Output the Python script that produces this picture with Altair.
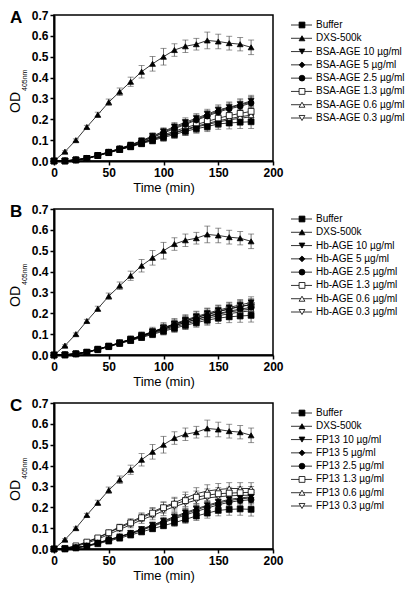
import altair as alt
import pandas as pd

times = [0, 10, 20, 30, 40, 50, 60, 70, 80, 90, 100, 110, 120, 130, 140, 150, 160, 170, 180]
keys = ["s0", "s1", "s2", "s3", "s4", "s5", "s6", "s7"]
shapes = ["square", "triangle-up", "triangle-down", "diamond", "circle", "square", "triangle-up", "triangle-down"]
fills = ["black", "black", "black", "black", "black", "white", "white", "white"]

labels_A = ["Buffer", "DXS-500k", "BSA-AGE 10 µg/ml", "BSA-AGE 5 µg/ml", "BSA-AGE 2.5 µg/ml",
            "BSA-AGE 1.3 µg/ml", "BSA-AGE 0.6 µg/ml", "BSA-AGE 0.3 µg/ml"]
labels_B = ["Buffer", "DXS-500k", "Hb-AGE 10 µg/ml", "Hb-AGE 5 µg/ml", "Hb-AGE 2.5 µg/ml",
            "Hb-AGE 1.3 µg/ml", "Hb-AGE 0.6 µg/ml", "Hb-AGE 0.3 µg/ml"]
labels_C = ["Buffer", "DXS-500k", "FP13 10 µg/ml", "FP13 5 µg/ml", "FP13 2.5 µg/ml",
            "FP13 1.3 µg/ml", "FP13 0.6 µg/ml", "FP13 0.3 µg/ml"]

dxs = [0, 0.045, 0.100, 0.163, 0.222, 0.282, 0.332, 0.380, 0.428, 0.466, 0.500, 0.532, 0.550, 0.560, 0.578, 0.573, 0.565, 0.560, 0.545]

# Panel A (BSA-AGE)
A_buffer = [0, 0.000, 0.005, 0.012, 0.026, 0.040, 0.055, 0.068, 0.083, 0.098, 0.113, 0.127, 0.142, 0.155, 0.165, 0.178, 0.182, 0.186, 0.188]
A_10 = [0, 0.001, 0.006, 0.014, 0.028, 0.044, 0.060, 0.078, 0.098, 0.120, 0.142, 0.165, 0.186, 0.205, 0.225, 0.245, 0.258, 0.272, 0.288]
A_5 = [0, 0.001, 0.006, 0.013, 0.027, 0.043, 0.059, 0.076, 0.095, 0.116, 0.138, 0.160, 0.180, 0.200, 0.220, 0.240, 0.255, 0.268, 0.283]
A_2_5 = [0, 0.001, 0.005, 0.013, 0.027, 0.042, 0.058, 0.075, 0.093, 0.113, 0.134, 0.155, 0.175, 0.196, 0.215, 0.235, 0.250, 0.262, 0.278]
A_1_3 = [0, 0.000, 0.005, 0.012, 0.026, 0.041, 0.056, 0.072, 0.089, 0.107, 0.125, 0.143, 0.160, 0.175, 0.190, 0.205, 0.218, 0.228, 0.238]
A_0_6 = [0, 0.000, 0.005, 0.012, 0.026, 0.040, 0.055, 0.070, 0.087, 0.104, 0.120, 0.137, 0.152, 0.167, 0.180, 0.193, 0.203, 0.212, 0.220]
A_0_3 = [0, 0.000, 0.005, 0.012, 0.025, 0.040, 0.055, 0.070, 0.086, 0.102, 0.118, 0.134, 0.149, 0.163, 0.175, 0.187, 0.197, 0.205, 0.212]

# Panel B (Hb-AGE)
B_buffer = [0, 0.000, 0.005, 0.012, 0.025, 0.040, 0.055, 0.069, 0.084, 0.099, 0.114, 0.128, 0.142, 0.155, 0.167, 0.177, 0.183, 0.187, 0.190]
B_10 = [0, 0.001, 0.006, 0.014, 0.028, 0.043, 0.059, 0.076, 0.094, 0.112, 0.131, 0.150, 0.168, 0.185, 0.200, 0.215, 0.228, 0.240, 0.252]
B_5 = [0, 0.001, 0.006, 0.014, 0.028, 0.042, 0.058, 0.075, 0.092, 0.110, 0.128, 0.146, 0.163, 0.179, 0.194, 0.208, 0.220, 0.232, 0.243]
B_2_5 = [0, 0.001, 0.005, 0.013, 0.027, 0.041, 0.057, 0.073, 0.090, 0.107, 0.124, 0.141, 0.157, 0.172, 0.186, 0.199, 0.210, 0.220, 0.228]
B_1_3 = [0, 0.001, 0.006, 0.014, 0.028, 0.043, 0.059, 0.076, 0.093, 0.111, 0.129, 0.147, 0.164, 0.180, 0.195, 0.209, 0.222, 0.233, 0.240]
B_0_6 = [0, 0.002, 0.006, 0.014, 0.027, 0.042, 0.057, 0.073, 0.090, 0.107, 0.124, 0.140, 0.156, 0.170, 0.184, 0.196, 0.206, 0.214, 0.220]
B_0_3 = [0, 0.001, 0.005, 0.013, 0.026, 0.041, 0.056, 0.071, 0.087, 0.103, 0.119, 0.134, 0.149, 0.163, 0.176, 0.188, 0.198, 0.206, 0.212]

# Panel C (FP13)
C_buffer = [0, 0.000, 0.005, 0.012, 0.025, 0.038, 0.052, 0.067, 0.082, 0.097, 0.112, 0.126, 0.142, 0.158, 0.172, 0.185, 0.190, 0.192, 0.190]
C_10 = [0, 0.001, 0.007, 0.016, 0.030, 0.045, 0.060, 0.077, 0.095, 0.115, 0.135, 0.155, 0.175, 0.193, 0.210, 0.225, 0.238, 0.245, 0.250]
C_5 = [0, 0.001, 0.007, 0.015, 0.029, 0.044, 0.059, 0.075, 0.093, 0.112, 0.132, 0.150, 0.170, 0.188, 0.205, 0.220, 0.232, 0.240, 0.245]
C_2_5 = [0, 0.001, 0.006, 0.014, 0.028, 0.042, 0.057, 0.073, 0.090, 0.108, 0.127, 0.145, 0.163, 0.180, 0.196, 0.212, 0.224, 0.232, 0.236]
C_1_3 = [0, 0.003, 0.015, 0.033, 0.053, 0.078, 0.103, 0.125, 0.150, 0.172, 0.198, 0.215, 0.232, 0.248, 0.258, 0.265, 0.268, 0.270, 0.272]
C_0_6 = [0, 0.003, 0.015, 0.035, 0.055, 0.080, 0.107, 0.130, 0.155, 0.178, 0.202, 0.222, 0.245, 0.265, 0.278, 0.285, 0.290, 0.290, 0.290]
C_0_3 = [0, 0.002, 0.012, 0.028, 0.047, 0.070, 0.094, 0.116, 0.140, 0.160, 0.183, 0.203, 0.220, 0.234, 0.245, 0.250, 0.255, 0.257, 0.258]

# error bars (SEM), per series position
err_0 = [0, 0.002, 0.003, 0.004, 0.005, 0.006, 0.007, 0.009, 0.011, 0.013, 0.015, 0.017, 0.019, 0.021, 0.024, 0.026, 0.028, 0.030, 0.032]
err_1 = [0, 0.004, 0.006, 0.008, 0.012, 0.015, 0.018, 0.022, 0.030, 0.035, 0.040, 0.030, 0.030, 0.028, 0.040, 0.035, 0.033, 0.032, 0.035]
err_2 = [0, 0.002, 0.003, 0.004, 0.006, 0.007, 0.009, 0.011, 0.013, 0.015, 0.017, 0.019, 0.021, 0.022, 0.023, 0.024, 0.025, 0.026, 0.027]
err_3 = [0, 0.002, 0.003, 0.004, 0.005, 0.007, 0.008, 0.010, 0.012, 0.014, 0.016, 0.018, 0.020, 0.021, 0.022, 0.023, 0.024, 0.025, 0.026]
err_4 = [0, 0.002, 0.003, 0.004, 0.005, 0.006, 0.008, 0.010, 0.012, 0.014, 0.016, 0.018, 0.019, 0.020, 0.021, 0.022, 0.023, 0.024, 0.025]
err_5 = [0, 0.003, 0.004, 0.006, 0.008, 0.010, 0.012, 0.015, 0.018, 0.022, 0.026, 0.028, 0.029, 0.030, 0.030, 0.029, 0.028, 0.028, 0.028]
err_6 = [0, 0.003, 0.004, 0.006, 0.008, 0.010, 0.012, 0.015, 0.018, 0.021, 0.024, 0.026, 0.028, 0.029, 0.030, 0.029, 0.028, 0.028, 0.028]
err_7 = [0, 0.002, 0.004, 0.005, 0.007, 0.009, 0.011, 0.014, 0.017, 0.020, 0.023, 0.025, 0.027, 0.028, 0.028, 0.027, 0.027, 0.026, 0.026]
errs = [err_0, err_1, err_2, err_3, err_4, err_5, err_6, err_7]

y_ticks = [0.0, 0.1, 0.2, 0.3, 0.4, 0.5, 0.6, 0.7]
x_ticks = [0, 50, 100, 150, 200]

panels = [
    ("A", labels_A, [A_buffer, dxs, A_10, A_5, A_2_5, A_1_3, A_0_6, A_0_3]),
    ("B", labels_B, [B_buffer, dxs, B_10, B_5, B_2_5, B_1_3, B_0_6, B_0_3]),
    ("C", labels_C, [C_buffer, dxs, C_10, C_5, C_2_5, C_1_3, C_0_6, C_0_3]),
]

FONT = "Liberation Sans"
W, H = 219, 146
MSIZE = 34

shape_scale = alt.Scale(domain=keys, range=shapes)
fill_scale = alt.Scale(domain=keys, range=fills)
x_scale = alt.Scale(domain=[0, 200], nice=False)
y_scale = alt.Scale(domain=[0, 0.7], nice=False)
x_axis = alt.Axis(values=x_ticks, title="Time (min)", labelFlush=False, labelOverlap=False,
                  titlePadding=3, titleFontWeight="normal")
y_axis = alt.Axis(values=y_ticks, format=".1f", title=None, labelFlush=False, labelOverlap=False)


def X(f):
    return alt.X(f, scale=x_scale, axis=x_axis)


def Y(f):
    return alt.Y(f, scale=y_scale, axis=y_axis)


def make_panel(letter, labels, series):
    rows = []
    for k, lab, vals, e in zip(keys, labels, series, errs):
        for t, v, ee in zip(times, vals, e):
            rows.append(dict(t=t, od=v, lo=max(v - ee, 0), hi=v + ee, k=k, label=lab))
    df = pd.DataFrame(rows)
    df_rev = df.iloc[::-1].reset_index(drop=True)  # draw Buffer markers on top
    base = alt.Chart(df)
    lines = base.mark_line(color="black", strokeWidth=0.8).encode(x=X("t:Q"), y=Y("od:Q"), detail="k:N")
    bars = base.mark_rule(color="#666666", strokeWidth=0.9).encode(x=X("t:Q"), y=Y("lo:Q"), y2="hi:Q")
    cap_lo = base.mark_tick(orient="horizontal", size=6, thickness=0.9, color="#555555").encode(
        x=X("t:Q"), y=Y("lo:Q"))
    cap_hi = base.mark_tick(orient="horizontal", size=6, thickness=0.9, color="#555555").encode(
        x=X("t:Q"), y=Y("hi:Q"))
    pts = alt.Chart(df_rev).mark_point(size=MSIZE, stroke="black", strokeWidth=0.8, opacity=1,
                                       fillOpacity=1).encode(
        x=X("t:Q"), y=Y("od:Q"),
        shape=alt.Shape("k:N", scale=shape_scale, legend=None),
        fill=alt.Fill("k:N", scale=fill_scale, legend=None),
    )
    one = pd.DataFrame({"a": [0]})
    letter_txt = alt.Chart(one).mark_text(text=letter, font=FONT, fontSize=17, fontWeight="bold",
                                          align="left", baseline="top", color="black").encode(
        x=alt.value(-44), y=alt.value(-5))
    od_txt = alt.Chart(one).mark_text(text="OD", font=FONT, fontSize=14, angle=270, align="left",
                                      baseline="alphabetic", color="black").encode(
        x=alt.value(-34), y=alt.value(98))
    sub_txt = alt.Chart(one).mark_text(text="405nm", font=FONT, fontSize=7, angle=270, align="left",
                                       baseline="alphabetic", color="black").encode(
        x=alt.value(-27), y=alt.value(76))
    plot = alt.layer(lines, bars, cap_lo, cap_hi, pts, letter_txt, od_txt, sub_txt).properties(width=W, height=H)

    leg_df = pd.DataFrame({"k": keys, "label": labels})
    lb = alt.Chart(leg_df)
    ly = alt.Y("k:N", scale=alt.Scale(type="point", domain=keys, range=[10, 103], padding=0), axis=None)
    l_rule = lb.mark_rule(color="black", strokeWidth=0.8).encode(x=alt.value(0), x2=alt.value(21), y=ly)
    l_pts = lb.mark_point(size=MSIZE, stroke="black", strokeWidth=0.8, opacity=1, fillOpacity=1).encode(
        x=alt.value(11), y=ly,
        shape=alt.Shape("k:N", scale=shape_scale, legend=None),
        fill=alt.Fill("k:N", scale=fill_scale, legend=None),
    )
    l_txt = lb.mark_text(align="left", baseline="middle", font=FONT, fontSize=10, color="black").encode(
        x=alt.value(25), y=ly, text="label:N")
    legend = alt.layer(l_rule, l_pts, l_txt).properties(
        width=100, height=H, view=alt.ViewBackground(stroke="transparent"))
    return alt.hconcat(plot, legend, spacing=5)


rows_ch = [make_panel(*p) for p in panels]
chart = alt.vconcat(*rows_ch, spacing=7).configure_axis(
    domainColor="black", domainWidth=2, tickColor="black", tickWidth=1.5, tickSize=4,
    labelFont=FONT, labelFontWeight="bold", labelFontSize=12, labelColor="black", labelPadding=2,
    labelOverlap=False,
    titleFont=FONT, titleFontWeight="normal", titleFontSize=13, titleColor="black", grid=False,
).configure_view(stroke="black", strokeWidth=1.5).properties(background="white", padding=0)

chart.save("out.html", embed_options={"renderer": "svg", "actions": False})
